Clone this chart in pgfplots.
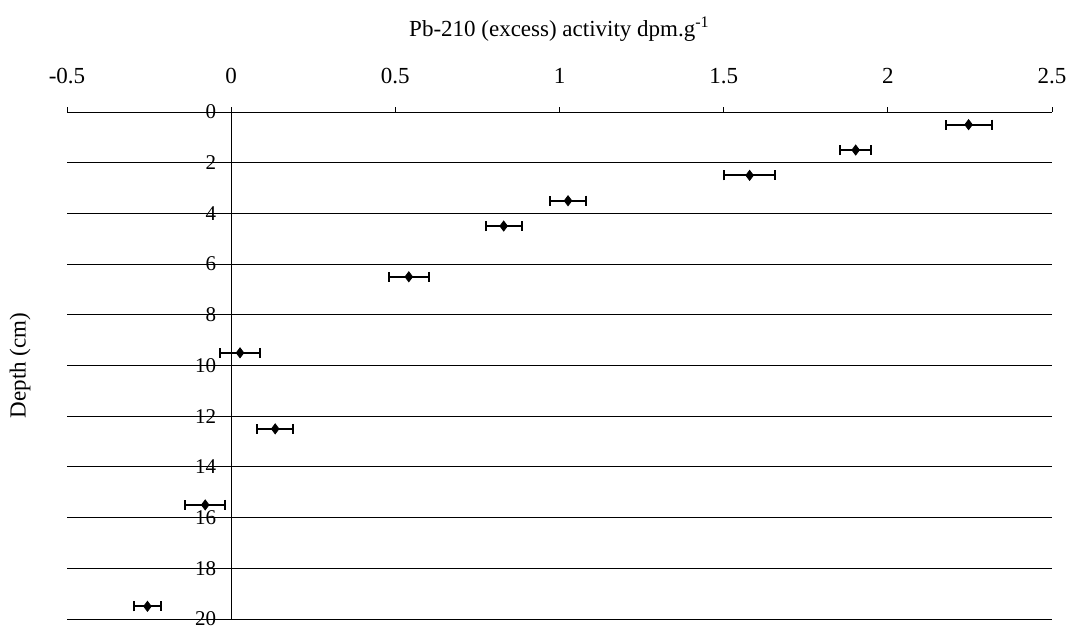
\documentclass[border=0pt]{standalone}
\usepackage{fontspec}
\setmainfont{Liberation Serif}
\usepackage{pgfplots}
\usepackage{pgfplotstable}
\pgfplotsset{compat=1.18}

% Excess Pb-210 activity against depth (x, depth, error in x)
\pgfplotstableread{
x      y     ex
2.246  0.5   0.070
1.902  1.5   0.047
1.579  2.5   0.078
1.026  3.5   0.054
0.830  4.5   0.055
0.541  6.5   0.061
0.027  9.5   0.060
0.134  12.5  0.055
-0.079 15.5  0.061
-0.255 19.5  0.042
}\pbdata

\begin{document}
\begin{tikzpicture}[font=\fontsize{11.5}{13}\selectfont]
\useasboundingbox (-33.5pt,56pt) rectangle (501.5pt,-259pt);
\begin{axis}[
  at={(0,0)}, anchor=north west,
  scale only axis, width=492.5pt, height=253.5pt,
  xmin=-0.5, xmax=2.5, ymin=0, ymax=20,
  y dir=reverse,
  axis x line*=top, axis y line*=middle,
  hide obscured x ticks=false, hide obscured y ticks=false,
  axis line style={black, line width=0.5pt},
  xtick={-0.5,0,0.5,1,1.5,2,2.5},
  ytick={0,2,...,20},
  xtick align=outside,
  major tick length=2.5pt,
  ytick style={draw=none},
  xtick style={black, line width=0.5pt},
  ymajorgrids,
  major grid style={black, line width=0.5pt},
  /pgf/number format/assume math mode=true,
  every x tick label/.style={font=\fontsize{11.5}{13}\selectfont, anchor=base, yshift=12pt},
  every y tick label/.style={font=\fontsize{10.5}{12}\selectfont, anchor=east, xshift=-4pt},
  title={Pb-210 (excess) activity dpm.g\textsuperscript{-1}},
  every axis title/.style={at={(axis description cs:0.5,1)}, anchor=base, yshift=38pt, font=\fontsize{11.5}{13}\selectfont},
  ylabel={Depth (cm)},
  every axis y label/.style={at={(axis description cs:0,0.5)}, rotate=90, anchor=center, yshift=23.5pt, font=\fontsize{11.5}{13}\selectfont},
  clip=false,
]
\addplot+[only marks, black, mark=diamond*, mark size=2.5pt,
  mark options={fill=black},
  error bars/.cd, x dir=both, x explicit,
  error mark=|, error mark options={black, mark size=2.5pt, line width=1pt},
  error bar style={black, line width=1pt}]
  table[x=x, y=y, x error=ex] {\pbdata};
\end{axis}
\end{tikzpicture}
\end{document}
